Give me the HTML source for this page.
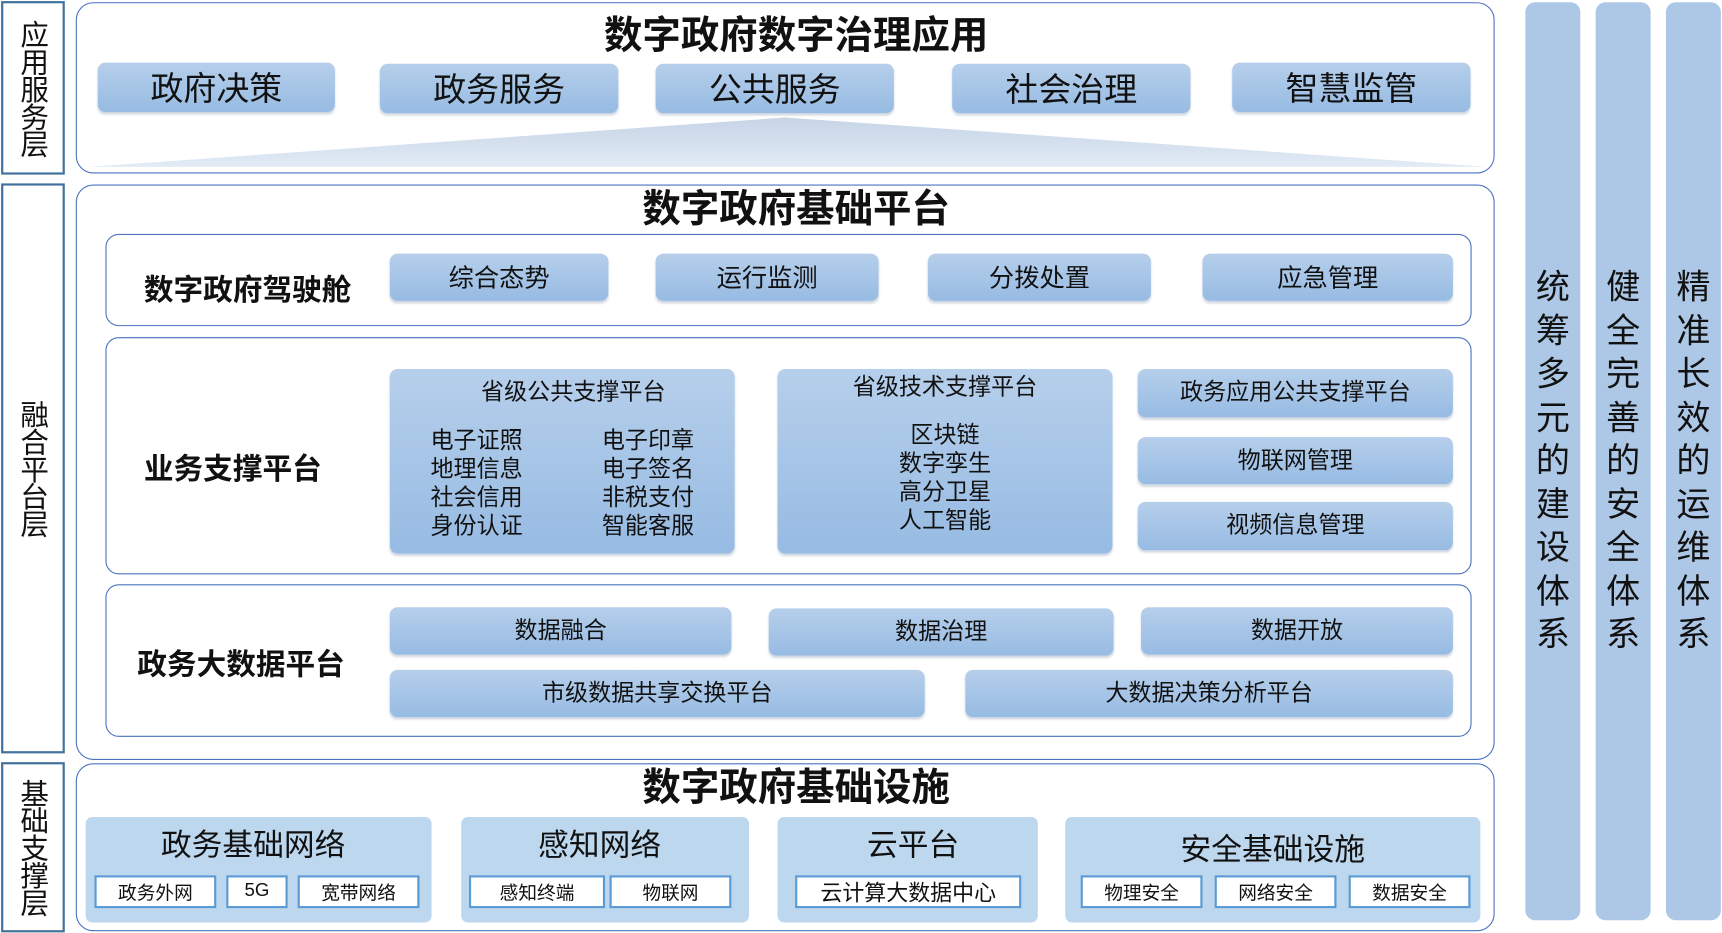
<!DOCTYPE html>
<html><head><meta charset="utf-8"><style>
html,body{margin:0;padding:0;background:#fff;width:1722px;height:933px;overflow:hidden}
#w{position:absolute;left:0;top:0;width:1568px;height:850px;transform:scale(1.0982);transform-origin:0 0;font-family:"Liberation Sans","Noto Sans CJK SC",sans-serif;color:#111}
.a{position:absolute;box-sizing:border-box}
.lab{border:2px solid #41719c;display:flex;align-items:center;justify-content:center;writing-mode:vertical-rl;font-size:26px;line-height:1;letter-spacing:-1px}
.pan{border:1.5px solid #4a72c0;border-radius:16px;background:#fff}
.sub{border:1.5px solid #4a72c0;border-radius:12px;background:#fff}
.btn{background:linear-gradient(#b6cfeb,#97bbe3);border-radius:7px;display:flex;align-items:center;justify-content:center;box-shadow:0 2px 2px rgba(120,140,170,.35);padding-bottom:4px}
.t{position:absolute;text-align:center;font-weight:bold;white-space:nowrap}
.g{background:#bdd7ee;border-radius:6px}
.wb{background:#fff;border:2px solid #5b9bd5;display:flex;align-items:center;justify-content:center;font-size:17px;padding-bottom:2px}
.col{background:#adc8e6;border-radius:9px;display:flex;flex-direction:column;align-items:center;padding-top:240px;font-size:31px;line-height:39.5px}
</style></head><body><div id="w">
<div class="a lab" style="left:1px;top:1px;width:58px;height:158px">应用服务层</div>
<div class="a lab" style="left:1px;top:167px;width:58px;height:519px">融合平台层</div>
<div class="a lab" style="left:1px;top:694px;width:58px;height:155px">基础支撑层</div>

<div class="a pan" style="left:69px;top:2px;width:1292px;height:156px"></div>
<svg class="a" style="left:0;top:0" width="1568" height="160"><defs><linearGradient id="tg" x1="0" y1="0" x2="0" y2="1"><stop offset="0" stop-color="#c6d4e6"/><stop offset="1" stop-color="#e2ebf6"/></linearGradient></defs><polygon points="80,152 715,107 1355,152" fill="url(#tg)"/></svg>
<div class="t" style="left:500px;top:4px;width:450px;font-size:35px">数字政府数字治理应用</div>
<div class="a btn" style="left:89px;top:57px;width:216px;height:45px;font-size:30px">政府决策</div>
<div class="a btn" style="left:346px;top:58px;width:217px;height:45px;font-size:30px">政务服务</div>
<div class="a btn" style="left:597px;top:58px;width:217px;height:45px;font-size:30px">公共服务</div>
<div class="a btn" style="left:867px;top:58px;width:217px;height:45px;font-size:30px">社会治理</div>
<div class="a btn" style="left:1122px;top:57px;width:217px;height:45px;font-size:30px">智慧监管</div>

<div class="a pan" style="left:69px;top:168px;width:1292px;height:524px"></div>
<div class="t" style="left:500px;top:162px;width:450px;font-size:35px">数字政府基础平台</div>

<div class="a sub" style="left:96px;top:213px;width:1244px;height:84px"></div>
<div class="t" style="left:131px;top:242px;font-size:27px">数字政府驾驶舱</div>
<div class="a btn" style="left:355px;top:231px;width:199px;height:43px;font-size:23px">综合态势</div>
<div class="a btn" style="left:597px;top:231px;width:203px;height:43px;font-size:23px">运行监测</div>
<div class="a btn" style="left:845px;top:231px;width:203px;height:43px;font-size:23px">分拨处置</div>
<div class="a btn" style="left:1095px;top:231px;width:228px;height:43px;font-size:23px">应急管理</div>

<div class="a sub" style="left:96px;top:307px;width:1244px;height:216px"></div>
<div class="t" style="left:131px;top:405px;font-size:27px">业务支撑平台</div>
<div class="a btn" style="left:355px;top:336px;width:314px;height:168px;display:block;font-size:21px;line-height:26px">
<div style="text-align:center;margin-top:9px;padding-left:20px">省级公共支撑平台</div>
<div style="position:absolute;left:37px;top:53px">电子证照<br>地理信息<br>社会信用<br>身份认证</div>
<div style="position:absolute;left:193px;top:53px">电子印章<br>电子签名<br>非税支付<br>智能客服</div></div>
<div class="a btn" style="left:708px;top:336px;width:305px;height:168px;display:block;font-size:21px;line-height:26px;text-align:center">
<div style="margin-top:4px">省级技术支撑平台</div><div style="margin-top:18px">区块链<br>数字孪生<br>高分卫星<br>人工智能</div></div>
<div class="a btn" style="left:1036px;top:336px;width:287px;height:44px;font-size:21px">政务应用公共支撑平台</div>
<div class="a btn" style="left:1036px;top:398px;width:287px;height:43px;font-size:21px">物联网管理</div>
<div class="a btn" style="left:1036px;top:457px;width:287px;height:44px;font-size:21px">视频信息管理</div>

<div class="a sub" style="left:96px;top:532px;width:1244px;height:139px"></div>
<div class="t" style="left:125px;top:583px;font-size:27px">政务大数据平台</div>
<div class="a btn" style="left:355px;top:553px;width:311px;height:43px;font-size:21px">数据融合</div>
<div class="a btn" style="left:700px;top:554px;width:314px;height:43px;font-size:21px">数据治理</div>
<div class="a btn" style="left:1039px;top:553px;width:284px;height:43px;font-size:21px">数据开放</div>
<div class="a btn" style="left:355px;top:610px;width:487px;height:43px;font-size:21px">市级数据共享交换平台</div>
<div class="a btn" style="left:879px;top:610px;width:444px;height:43px;font-size:21px">大数据决策分析平台</div>

<div class="a pan" style="left:69px;top:695px;width:1292px;height:153px"></div>
<div class="t" style="left:500px;top:689px;width:450px;font-size:35px">数字政府基础设施</div>
<div class="a g" style="left:78px;top:744px;width:315px;height:96px"></div>
<div class="a g" style="left:420px;top:744px;width:262px;height:96px"></div>
<div class="a g" style="left:708px;top:744px;width:237px;height:96px"></div>
<div class="a g" style="left:970px;top:744px;width:378px;height:96px"></div>
<div class="a" style="left:78px;top:748px;width:305px;text-align:center;font-size:28px">政务基础网络</div>
<div class="a" style="left:420px;top:748px;width:252px;text-align:center;font-size:28px">感知网络</div>
<div class="a" style="left:708px;top:748px;width:247px;text-align:center;font-size:28px">云平台</div>
<div class="a" style="left:970px;top:752px;width:378px;text-align:center;font-size:28px">安全基础设施</div>
<div class="a wb" style="left:86px;top:797px;width:111px;height:30px">政务外网</div>
<div class="a wb" style="left:206px;top:797px;width:56px;height:30px">5G</div>
<div class="a wb" style="left:271px;top:797px;width:111px;height:30px">宽带网络</div>
<div class="a wb" style="left:427px;top:797px;width:124px;height:30px">感知终端</div>
<div class="a wb" style="left:555px;top:797px;width:111px;height:30px">物联网</div>
<div class="a wb" style="left:724px;top:797px;width:206px;height:30px;font-size:20px">云计算大数据中心</div>
<div class="a wb" style="left:984px;top:797px;width:111px;height:30px">物理安全</div>
<div class="a wb" style="left:1106px;top:797px;width:111px;height:30px">网络安全</div>
<div class="a wb" style="left:1228px;top:797px;width:111px;height:30px">数据安全</div>

<div class="a col" style="left:1389px;top:2px;width:50px;height:836px"><span>统</span><span>筹</span><span>多</span><span>元</span><span>的</span><span>建</span><span>设</span><span>体</span><span>系</span></div>
<div class="a col" style="left:1453px;top:2px;width:50px;height:836px"><span>健</span><span>全</span><span>完</span><span>善</span><span>的</span><span>安</span><span>全</span><span>体</span><span>系</span></div>
<div class="a col" style="left:1517px;top:2px;width:50px;height:836px"><span>精</span><span>准</span><span>长</span><span>效</span><span>的</span><span>运</span><span>维</span><span>体</span><span>系</span></div>
</div></body></html>
